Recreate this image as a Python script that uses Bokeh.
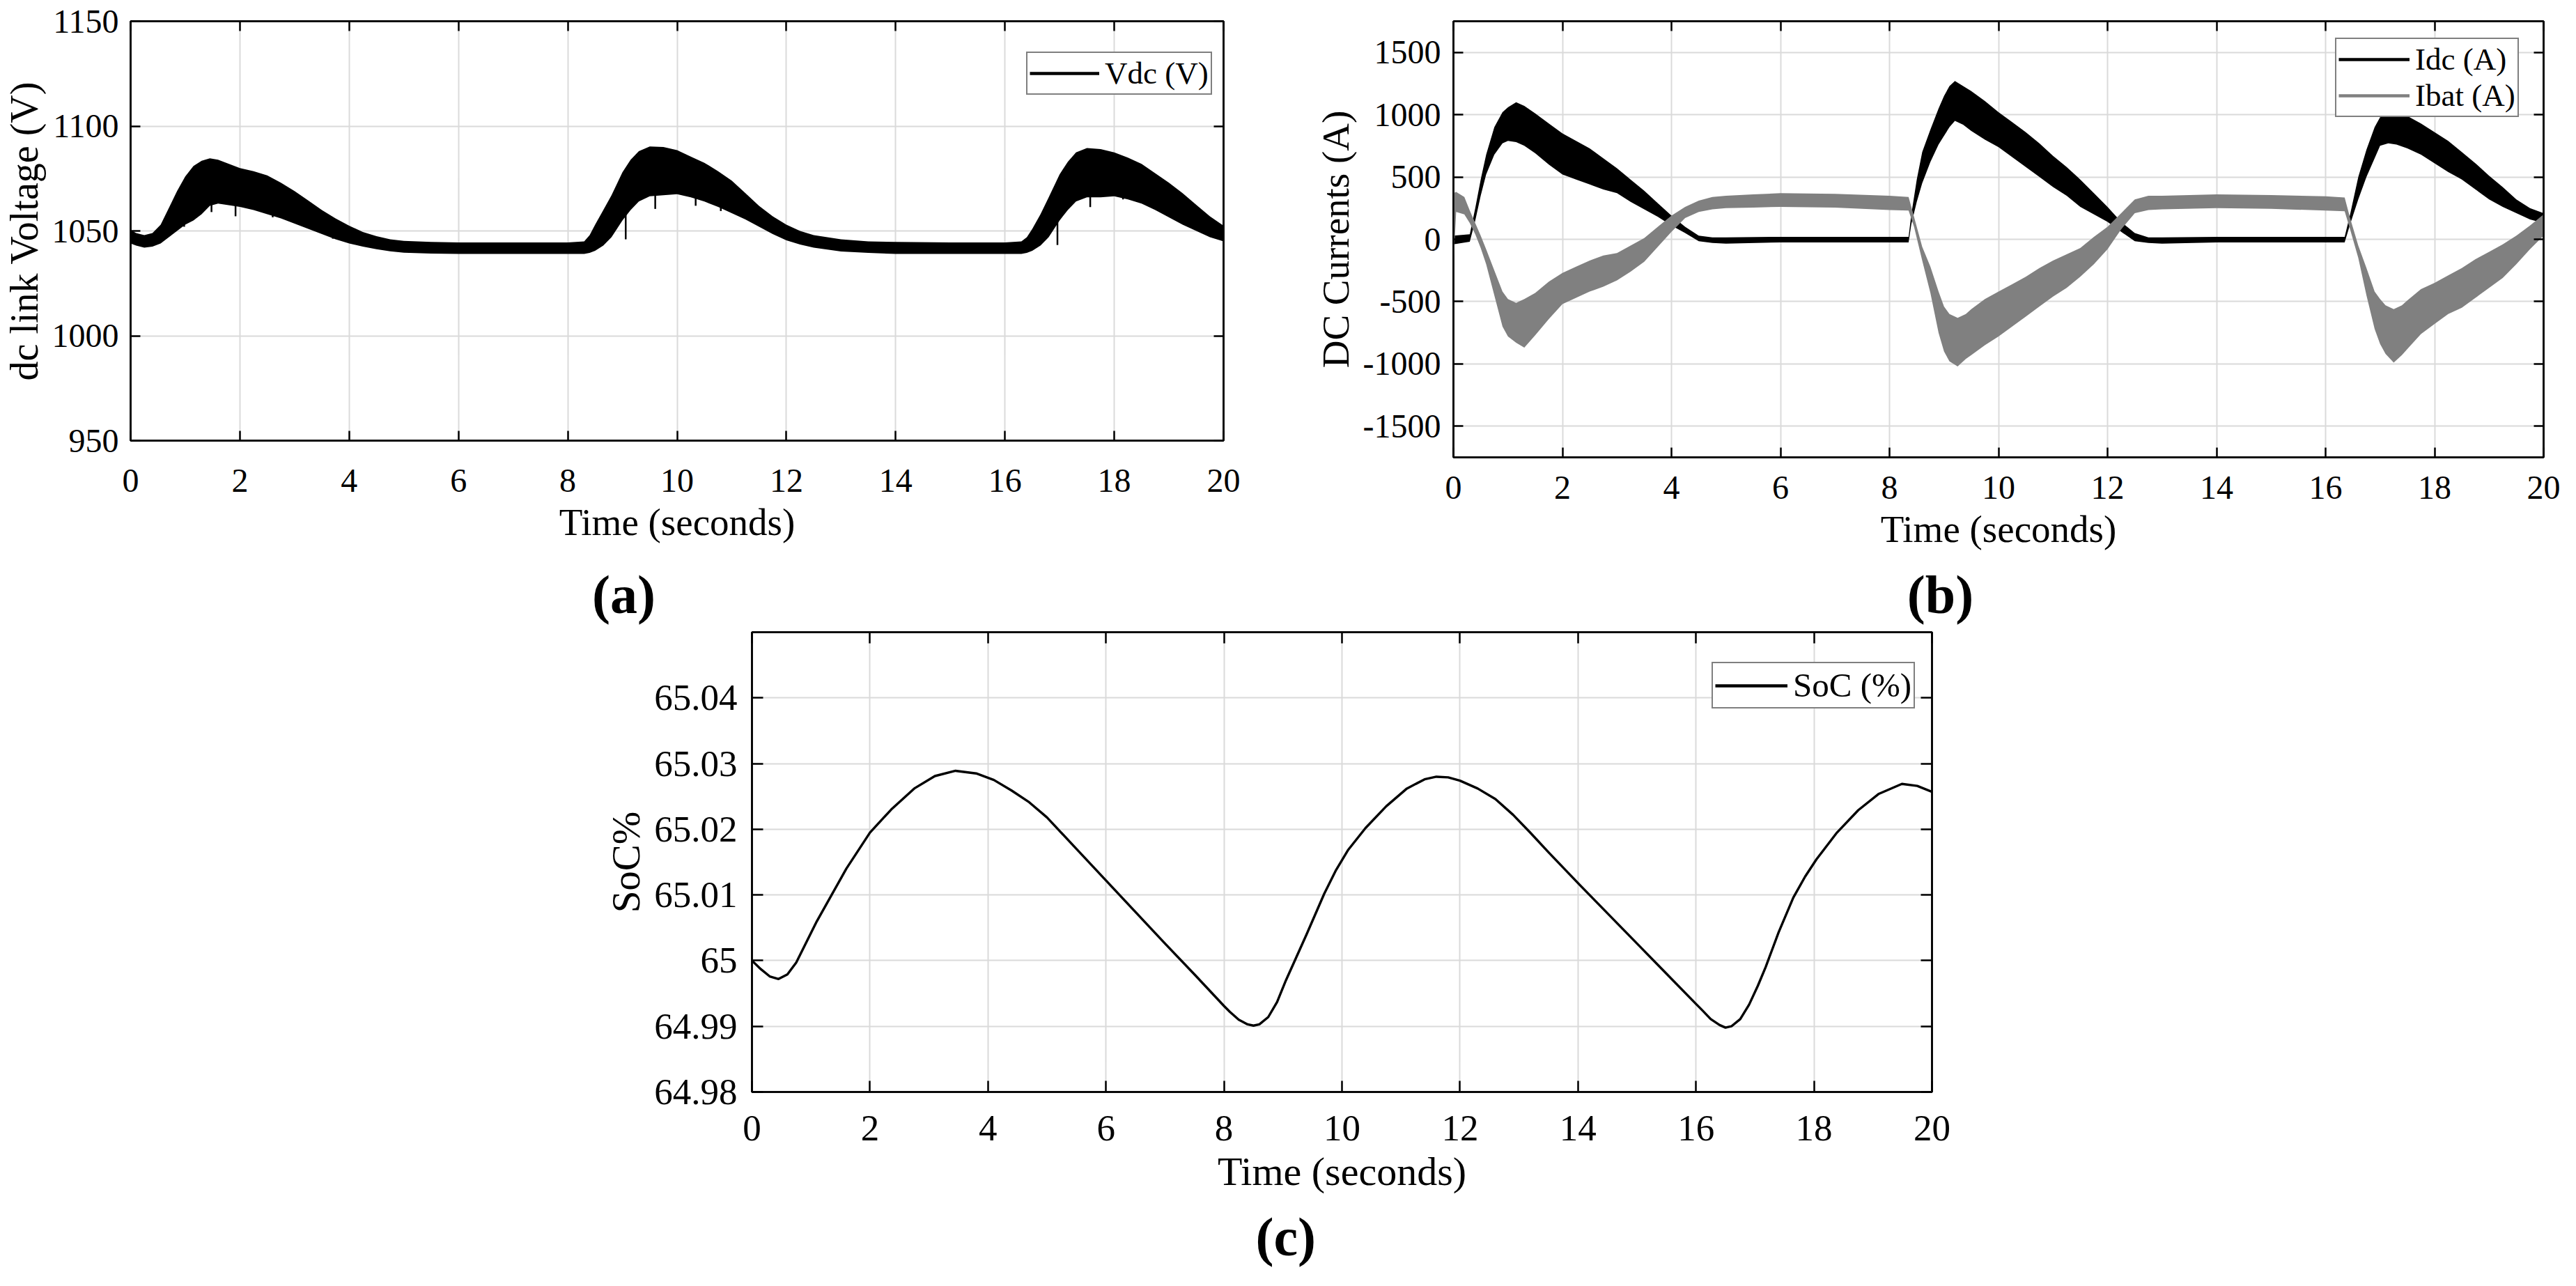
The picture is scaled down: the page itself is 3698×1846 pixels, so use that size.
from bokeh.plotting import figure
from bokeh.models import (LinearAxis, Range1d, Title, Label, Legend, LegendItem,
                          FixedTicker, PrintfTickFormatter, Spacer)
from bokeh.layouts import row, column
from bokeh.embed import file_html
from bokeh.resources import INLINE

FONT = "Liberation Serif"
GRID = "#dadada"
GRAY = "#808080"
NAN = float("nan")

# ---------------- tick values ----------------
time_ticks = [0, 2, 4, 6, 8, 10, 12, 14, 16, 18, 20]
vdc_ticks = [950, 1000, 1050, 1100, 1150]
cur_ticks = [-1500, -1000, -500, 0, 500, 1000, 1500]
soc_ticks = [64.98, 64.99, 65.0, 65.01, 65.02, 65.03, 65.04]

# ---------------- (a) dc link voltage band ----------------
vdc_t = [0, 0.1, 0.25, 0.4, 0.55, 0.7, 0.85, 1.0, 1.15, 1.3, 1.45, 1.6, 1.75, 2.0,
         2.25, 2.5, 2.75, 3.0, 3.25, 3.5, 3.75, 4.0, 4.25, 4.5, 4.75, 5.0, 5.5, 6,
         7, 8, 8.3, 8.4, 8.5, 8.65, 8.8, 9.0, 9.15, 9.3, 9.5, 9.75, 10, 10.25, 10.5,
         10.75, 11, 11.25, 11.5, 11.75, 12, 12.25, 12.5, 13, 13.5, 14, 15, 16, 16.3,
         16.4, 16.5, 16.65, 16.8, 17.0, 17.15, 17.3, 17.5, 17.75, 18, 18.25, 18.5,
         18.75, 19, 19.25, 19.5, 19.75, 20]
vdc_hi = [1050.5, 1049, 1048, 1049, 1053, 1061, 1069, 1076, 1081, 1083.5, 1084.6,
          1084, 1082.5, 1080, 1078.5, 1076.5, 1073, 1069, 1064.5, 1060, 1056, 1052.5,
          1049.5, 1047.5, 1046, 1045.3, 1044.8, 1044.5, 1044.5, 1044.5, 1045, 1048,
          1053, 1060, 1067, 1078, 1084, 1088, 1090.3, 1090, 1088.5, 1085.5, 1082.5,
          1078.5, 1074, 1068, 1062, 1057, 1053, 1050, 1048, 1046, 1045, 1044.8,
          1044.5, 1044.5, 1045, 1047, 1051, 1058, 1066, 1077, 1083, 1087.5, 1089.5,
          1089, 1087.5, 1085, 1082, 1077.5, 1073, 1068, 1062.5, 1057, 1052.5]
vdc_lo = [1044, 1043, 1042, 1042.5, 1044, 1047, 1050, 1053, 1055, 1058, 1062, 1063,
          1062.5, 1061.5, 1060, 1058, 1056, 1053.5, 1051, 1048.5, 1046, 1044, 1042.5,
          1041.3, 1040.3, 1039.6, 1039.2, 1039, 1039, 1039, 1039, 1039.5, 1040.5,
          1043, 1047, 1055, 1060, 1064, 1066.5, 1067, 1067.5, 1066, 1064, 1061.5,
          1058.5, 1055.5, 1052, 1048.5, 1045.5, 1043.5, 1042, 1040.2, 1039.5, 1039,
          1039, 1039, 1039, 1039.5, 1040.5, 1043, 1047, 1055, 1060, 1064, 1066, 1066,
          1066.5, 1065, 1063, 1060, 1056.5, 1053, 1050, 1047, 1045]
# downward ripple spikes on the lower edge of the Vdc band
spk_t = [0.71, 0.98, 1.18, 1.48, 1.92, 2.6, 3.7, 9.06, 9.6, 10.34, 10.8, 16.96,
         17.56, 18.16, 18.9]
spk_top = [1050, 1055, 1058, 1064, 1064, 1060, 1049, 1058, 1068, 1068, 1063, 1057,
           1068, 1068, 1062]
spk_bot = [1047.6, 1052, 1057, 1059, 1057, 1056.5, 1046.3, 1046, 1060.5, 1062,
           1059.5, 1043.3, 1061.4, 1065, 1060.5]

# ---------------- (b) DC currents bands ----------------
idc_t = [0, 0.3, 0.4, 0.5, 0.6, 0.75, 0.9, 1.0, 1.15, 1.3, 1.5, 1.75, 2.0, 2.25, 2.5,
         2.75, 3.0, 3.25, 3.5, 3.75, 4.0, 4.25, 4.5, 4.75, 5.0, 6, 7, 8, 8.35, 8.4,
         8.5, 8.6, 8.75, 8.9, 9.0, 9.1, 9.2, 9.35, 9.5, 9.75, 10, 10.25, 10.5, 10.75,
         11, 11.25, 11.5, 11.75, 12, 12.25, 12.5, 12.75, 13, 14, 15, 16, 16.35, 16.45,
         16.6, 16.75, 16.9, 17.0, 17.15, 17.3, 17.5, 17.75, 18, 18.25, 18.5, 18.75,
         19, 19.25, 19.5, 19.75, 20]
idc_hi = [30, 40, 250, 480, 680, 900, 1020, 1060, 1100, 1070, 1010, 930, 850, 790,
          730, 650, 570, 480, 390, 290, 190, 100, 30, 15, 15, 20, 20, 20, 20, 200, 480,
          700, 880, 1050, 1150, 1230, 1270, 1230, 1190, 1110, 1020, 940, 860, 770, 670,
          580, 480, 370, 260, 140, 50, 15, 15, 20, 20, 20, 20, 200, 500, 720, 900, 980,
          1000, 1020, 990, 930, 860, 790, 700, 610, 510, 420, 320, 250, 210]
idc_lo = [-40, -20, 150, 350, 520, 680, 770, 790, 780, 750, 690, 600, 520, 480, 440,
          400, 370, 300, 240, 180, 110, 50, -15, -30, -35, -25, -25, -25, -25, 120, 300,
          450, 620, 760, 830, 900, 950, 920, 870, 800, 740, 660, 580, 500, 420, 350,
          260, 200, 140, 60, -15, -30, -35, -25, -25, -25, -25, 120, 320, 500, 650,
          750, 770, 760, 730, 680, 610, 540, 480, 400, 320, 260, 210, 160, 130]

ibat_t = [0, 0.05, 0.2, 0.3, 0.4, 0.5, 0.6, 0.75, 0.9, 1.0, 1.15, 1.3, 1.5, 1.75, 2.0,
          2.25, 2.5, 2.75, 3.0, 3.25, 3.5, 3.75, 4.0, 4.25, 4.5, 4.75, 5.0, 5.5, 6, 7,
          8, 8.35, 8.45, 8.6, 8.75, 8.9, 9.0, 9.1, 9.25, 9.4, 9.5, 9.75, 10, 10.25,
          10.5, 10.75, 11, 11.25, 11.5, 11.75, 12, 12.25, 12.5, 12.75, 13, 14, 15, 16,
          16.35, 16.45, 16.6, 16.75, 16.9, 17.0, 17.1, 17.25, 17.4, 17.5, 17.75, 18,
          18.25, 18.5, 18.75, 19, 19.25, 19.5, 19.75, 20]
ibat_hi = [370, 380, 340, 230, 130, 30, -80, -250, -420, -480, -510, -480, -430,
           -340, -270, -220, -170, -130, -110, -50, 10, 100, 190, 260, 310, 340, 350,
           360, 370, 365, 350, 340, 180, -60, -220, -420, -540, -600, -630, -600,
           -560, -480, -420, -360, -300, -230, -170, -120, -70, 20, 100, 210, 320,
           350, 350, 360, 355, 345, 335, 170, -50, -230, -420, -480, -530, -560, -530,
           -490, -400, -350, -290, -230, -160, -100, -40, 30, 110, 200]
ibat_lo = [-200, 220, 200, 130, 40, -70, -200, -450, -700, -780, -830, -870, -770,
           -640, -520, -470, -420, -380, -330, -260, -180, -60, 60, 170, 220, 240,
           250, 255, 260, 255, 235, 230, 100, -170, -430, -750, -900, -980, -1020,
           -960, -930, -850, -780, -700, -620, -540, -460, -390, -300, -200, -80, 80,
           210, 235, 240, 250, 245, 230, 225, 80, -150, -450, -720, -840, -920, -990,
           -930, -880, -760, -680, -600, -550, -470, -390, -310, -200, -80, 30]

# ---------------- (c) state of charge ----------------
soc_t = [0, 0.15, 0.3, 0.45, 0.6, 0.75, 0.9, 1.1, 1.35, 1.6, 2.0, 2.36, 2.75, 3.1,
         3.45, 3.8, 4.1, 4.4, 4.7, 5.0, 5.5, 6.0, 7.0, 7.5, 8.0, 8.1, 8.25, 8.4,
         8.5, 8.6, 8.75, 8.9, 9.05, 9.2, 9.4, 9.7, 9.9, 10.1, 10.4, 10.75, 11.1,
         11.4, 11.6, 11.8, 12.0, 12.3, 12.6, 12.9, 13.2, 13.5, 14.0, 15.0, 15.5,
         16.0, 16.1, 16.25, 16.4, 16.5, 16.6, 16.75, 16.9, 17.05, 17.18, 17.4,
         17.65, 17.85, 18.04, 18.39, 18.75, 19.1, 19.49, 19.75, 20.0]
soc_v = [65.0000, 64.9987, 64.9976, 64.9972, 64.9979, 64.9997, 65.0024, 65.0060,
         65.0100, 65.0140, 65.0195, 65.0230, 65.0262, 65.0281, 65.0289, 65.0285,
         65.0275, 65.0259, 65.0241, 65.0218, 65.0170, 65.0122, 65.0026, 64.9979,
         64.9931, 64.9922, 64.9910, 64.9903, 64.9901, 64.9903, 64.9914, 64.9937,
         64.9970, 65.0000, 65.0040, 65.0102, 65.0138, 65.0168, 65.0202, 65.0235,
         65.0262, 65.0276, 65.0280, 65.0279, 65.0274, 65.0262, 65.0246, 65.0222,
         65.0194, 65.0165, 65.0118, 65.0026, 64.9980, 64.9934, 64.9925, 64.9911,
         64.9902, 64.9898, 64.9900, 64.9911, 64.9933, 64.9962, 64.9990, 65.0043,
         65.0096, 65.0128, 65.0154, 65.0195, 65.0229, 65.0254, 65.0269, 65.0266,
         65.0257]


def make_fig(fw, fh, bl, br, bt, bb, yr):
    p = figure(frame_width=fw, frame_height=fh, min_border_left=bl,
               min_border_right=br, min_border_top=bt, min_border_bottom=bb,
               x_range=Range1d(0, 20), y_range=Range1d(*yr),
               output_backend="svg", toolbar_location=None,
               background_fill_color="white", border_fill_color="white")
    p.outline_line_color = "black"
    p.outline_line_width = 2.5
    return p


def style_axes(p, yticks, yfmt, tick_fs, xlab_fs, ylab_fs, tick_len,
               ylab, ystand, xstand, xlab_stand):
    for ax in (p.xaxis[0], p.yaxis[0]):
        ax.major_tick_in = tick_len
        ax.major_tick_out = 0
        ax.minor_tick_line_color = None
        ax.axis_line_width = 2.5
        ax.major_tick_line_width = 2.5
        ax.major_label_text_font = FONT
        ax.major_label_text_font_size = f"{tick_fs}px"
        ax.major_label_text_color = "black"
        ax.axis_label_text_font = FONT
        ax.axis_label_text_font_style = "normal"
        ax.axis_label_text_color = "black"
    xa, ya = p.xaxis[0], p.yaxis[0]
    xa.ticker = FixedTicker(ticks=time_ticks)
    xa.formatter = PrintfTickFormatter(format="%d")
    xa.axis_label = "Time (seconds)"
    xa.axis_label_text_font_size = f"{xlab_fs}px"
    xa.major_label_standoff = xstand
    xa.axis_label_standoff = xlab_stand
    ya.ticker = FixedTicker(ticks=yticks)
    ya.formatter = PrintfTickFormatter(format=yfmt)
    ya.axis_label = ylab
    ya.axis_label_text_font_size = f"{ylab_fs}px"
    ya.major_label_standoff = ystand
    ya.axis_label_standoff = 6
    p.xgrid.ticker = FixedTicker(ticks=time_ticks)
    p.ygrid.ticker = FixedTicker(ticks=yticks)
    for g in (p.xgrid[0], p.ygrid[0]):
        g.grid_line_color = GRID
        g.grid_line_width = 2
    top = LinearAxis(ticker=FixedTicker(ticks=time_ticks),
                     major_label_text_font_size="1px",
                     major_label_text_color=None, major_label_standoff=0,
                     major_tick_in=tick_len, major_tick_out=0,
                     minor_tick_line_color=None, axis_line_width=2.5,
                     major_tick_line_width=2.5)
    right = LinearAxis(ticker=FixedTicker(ticks=yticks),
                       major_label_text_font_size="1px",
                       major_label_text_color=None, major_label_standoff=0,
                       major_tick_in=tick_len, major_tick_out=0,
                       minor_tick_line_color=None, axis_line_width=2.5,
                       major_tick_line_width=2.5)
    p.add_layout(top, "above")
    p.add_layout(right, "right")


def add_legend(p, entries, loc, fs, gw):
    items = []
    for lab, col in entries:
        r = p.line(x=[NAN], y=[NAN], line_color=col, line_width=4.5)
        items.append(LegendItem(label=lab, renderers=[r]))
    leg = Legend(items=items, location=loc, label_text_font=FONT,
                 label_text_font_size=f"{fs}px", label_text_color="black",
                 glyph_width=gw, glyph_height=20, label_standoff=8,
                 padding=3, spacing=0, margin=0,
                 border_line_color="black", border_line_width=2,
                 background_fill_color="white", background_fill_alpha=1)
    p.add_layout(leg)


TAG_STYLE = dict(text_font=FONT, text_font_size="78px", text_font_style="bold",
                 text_color="black")

# ---------------- panel (a) ----------------
pa = make_fig(1569, 602, 183, 120, 30, 165, (950, 1150))
pa.varea(x=vdc_t, y1=vdc_lo, y2=vdc_hi, fill_color="black")
pa.segment(x0=spk_t, y0=spk_top, x1=spk_t, y1=spk_bot, line_color="black",
           line_width=2.5)
style_axes(pa, vdc_ticks, "%d", 48, 55, 56, 14, "dc link Voltage (V)", 17, 41, 10)
add_legend(pa, [("Vdc (V)", "black")], (1286, 496), 45, 100)

# ---------------- panel (b) ----------------
pb = make_fig(1565, 626, 210, 30, 17, 154, (-1750, 1750))
pb.varea(x=idc_t, y1=idc_lo, y2=idc_hi, fill_color="black")
pb.varea(x=ibat_t, y1=ibat_lo, y2=ibat_hi, fill_color=GRAY)
style_axes(pb, cur_ticks, "%d", 48, 55, 55, 14, "DC Currents (A)", 18, 27, 10)
add_legend(pb, [("Idc (A)", "black"), ("Ibat (A)", GRAY)], (1266, 488), 45, 102)

# ---------------- sub-figure tags (a), (b) ----------------
TAG_W, TAG_H = 3680, 107
tags = figure(width=TAG_W, height=TAG_H, x_range=Range1d(0, TAG_W),
              y_range=Range1d(0, TAG_H), output_backend="svg",
              toolbar_location=None, x_axis_location=None, y_axis_location=None,
              min_border=0, outline_line_color=None,
              background_fill_color="white", border_fill_color="white")
tags.xgrid.visible = False
tags.ygrid.visible = False
tags.add_layout(Label(x=895, y=51, text="(a)", text_align="center",
                      text_baseline="middle", **TAG_STYLE))
tags.add_layout(Label(x=2785, y=51, text="(b)", text_align="center",
                      text_baseline="middle", **TAG_STYLE))

# ---------------- panel (c) ----------------
pc = make_fig(1694, 660, 229, 40, 3, 264, (64.98, 65.05))
pc.line(x=soc_t, y=soc_v, line_color="black", line_width=3.4,
        line_join="round")
style_axes(pc, soc_ticks, "%g", 53, 58, 57, 16, "SoC%", 21, 34, 9)
add_legend(pc, [("SoC (%)", "black")], (1378, 550), 49, 104)
pc.add_layout(Title(text="(c)", align="left", offset=723, vertical_align="bottom",
                    standoff=26, **TAG_STYLE), "below")

layout = column(row(pa, pb), tags, row(Spacer(width=850, height=927), pc))

open("out.html", "w").write(file_html(layout, INLINE))
